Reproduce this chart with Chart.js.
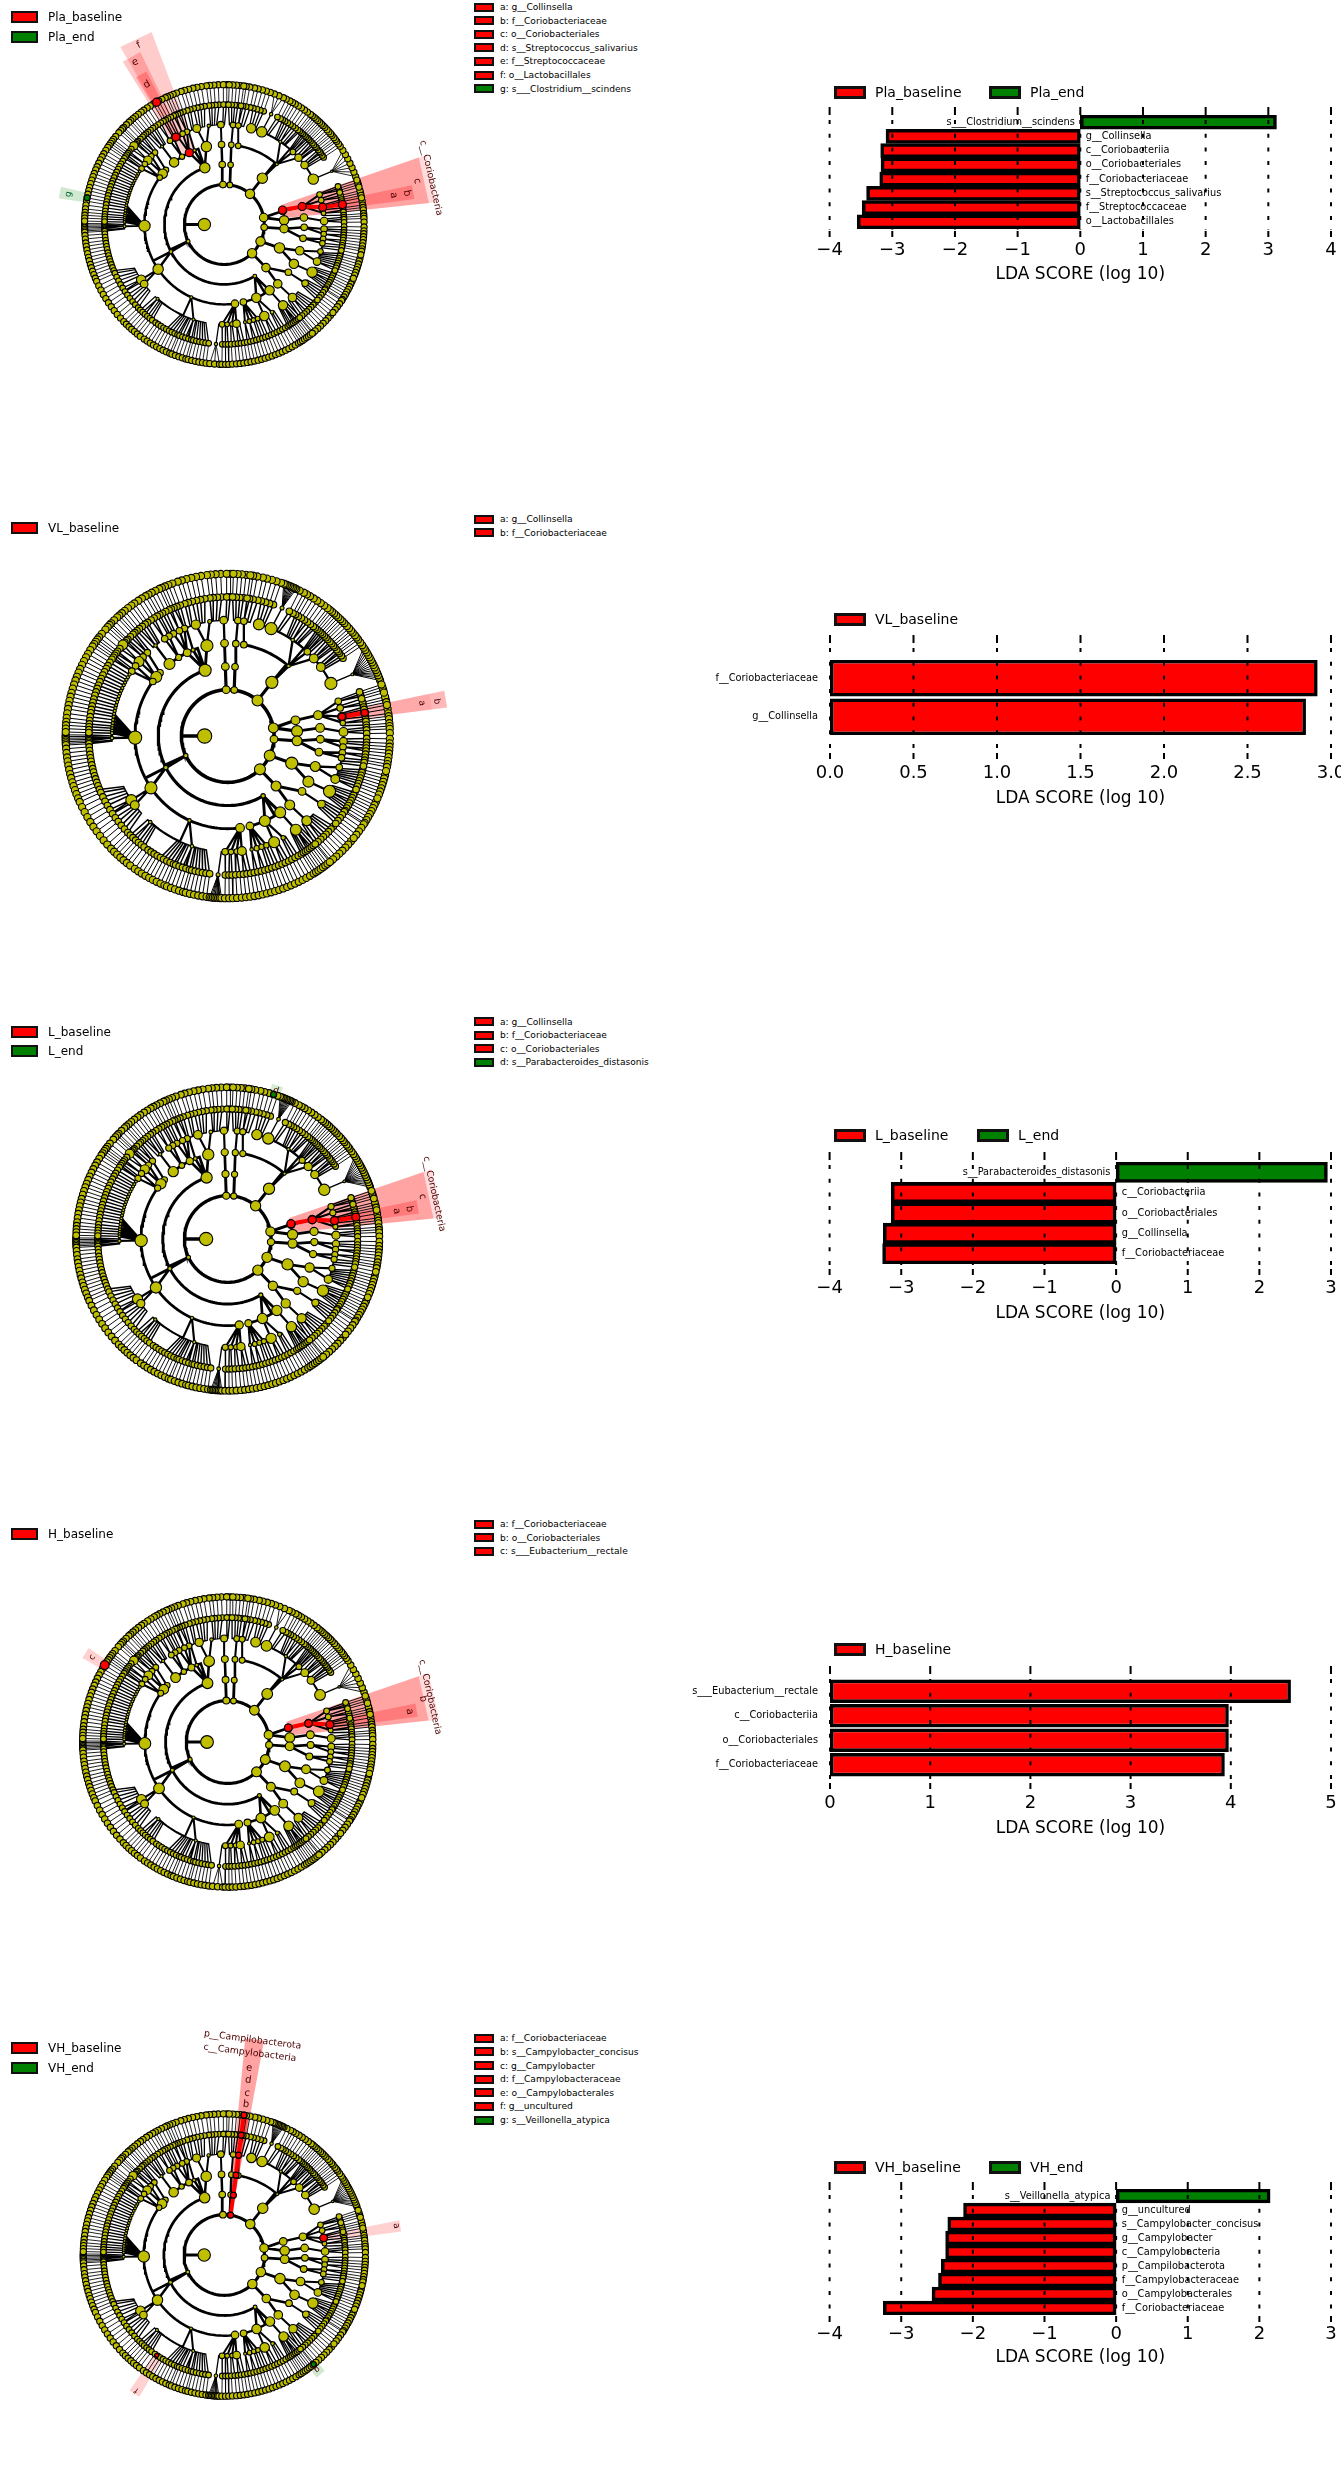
<!DOCTYPE html>
<html>
<head>
  <title>LEfSe cladograms and LDA scores</title>
  <script src="https://cdn.jsdelivr.net/npm/chart.js"></script>
  <style>
    html, body { margin: 0; background: #fff; }
    body { position: relative; width: 1341px; height: 2480px; overflow: hidden; font-family: "DejaVu Sans", sans-serif; color: #000; filter: blur(0.4px); }
    canvas { position: absolute; }
    .item { position: absolute; white-space: nowrap; display: flex; align-items: center; }
    .box { box-sizing: border-box; flex: none; }
  </style>
</head>
<body>
<script>
// LDA scores, top bar first (negative = baseline class)
const plaNames = ["s___Clostridium__scindens", "g__Collinsella", "c__Coriobacteriia", "o__Coriobacteriales", "f__Coriobacteriaceae", "s__Streptococcus_salivarius", "f__Streptococcaceae", "o__Lactobacillales"];
const plaScores = [3.13, -3.10, -3.185, -3.18, -3.20, -3.41, -3.48, -3.56];
const vlNames = ["f__Coriobacteriaceae", "g__Collinsella"];
const vlScores = [2.92, 2.85];
const lNames = ["s__Parabacteroides_distasonis", "c__Coriobacteriia", "o__Coriobacteriales", "g__Collinsella", "f__Coriobacteriaceae"];
const lScores = [2.95, -3.14, -3.14, -3.25, -3.26];
const hNames = ["s___Eubacterium__rectale", "c__Coriobacteriia", "o__Coriobacteriales", "f__Coriobacteriaceae"];
const hScores = [4.6, 3.98, 3.98, 3.94];
const vhNames = ["s__Veillonella_atypica", "g__uncultured", "s__Campylobacter_concisus", "g__Campylobacter", "c__Campylobacteria", "p__Campilobacterota", "f__Campylobacteraceae", "o__Campylobacterales", "f__Coriobacteriaceae"];
const vhScores = [2.15, -2.13, -2.35, -2.38, -2.38, -2.44, -2.48, -2.57, -3.25];

// letter keys beside each cladogram
const plaKey = ["a: g__Collinsella", "b: f__Coriobacteriaceae", "c: o__Coriobacteriales", "d: s__Streptococcus_salivarius", "e: f__Streptococcaceae", "f: o__Lactobacillales", "g: s___Clostridium__scindens"];
const vlKey = ["a: g__Collinsella", "b: f__Coriobacteriaceae"];
const lKey = ["a: g__Collinsella", "b: f__Coriobacteriaceae", "c: o__Coriobacteriales", "d: s__Parabacteroides_distasonis"];
const hKey = ["a: f__Coriobacteriaceae", "b: o__Coriobacteriales", "c: s___Eubacterium__rectale"];
const vhKey = ["a: f__Coriobacteriaceae", "b: s__Campylobacter_concisus", "c: g__Campylobacter", "d: f__Campylobacteraceae", "e: o__Campylobacterales", "f: g__uncultured", "g: s__Veillonella_atypica"];

// taxonomy tree, angles in degrees. [angle, size, children]; a bare number runs straight out to the leaf ring
const fansDense = {
  fanA: [20, 21, 22, 23, 24, 25, 26, 27, 28, 29, 30, 31, 32, 33],
  fanB: [65, 65.6, 66.2, 66.8, 67.4, 68, 68.6, 69.2, 69.8],
  fanC: [263.6, 264.2, 264.8, 265.4, 266, 266.6, 267.2, 267.8]
};
const fansSparse = {
  fanA: [20, 22, 24, 26, 28, 30, 32],
  fanB: [65, 67, 69],
  fanC: [264, 266, 268]
};
const stripesLeft = [148, 149.6, 151, 152.5, 154, 155.6, 157, 158.6, 160, 161.5, 163, 164.6, 166, 167.5, 169, 170.4, 172, 173.6, 175, 176.2, 177.4, 178.6];
const upperLeftClade = [109, 5.5, [
  [103, 5.5, [[99, 1.8, [92.5, 94.3, 96, 97.4]], [106, 4.2, [99.5, 101.3, 103, 104.8]]]],
  [112, 1.8, [[111, 1.5, [106.5, 108, 110]]]],
  [116, 3.5, [[112, 3, [111.5, 112.8]], [114.7, 3, [114, 115]], [118, 3, [116.5, 118]]]],
  [122, 2.8, [[120.5, 3, [119.3, 120.5]], [123, 3, [122, 123.5]]]],
  [129, 5, [[128.6, 1.6, [125.2, 126.5, 128, 129.5, 130.8]]]]
]];
const lowerLeftClade = [207, 2, [
  [137, 3, [[134, 3, [132, 133, 134.5, 136]]]],
  [140.5, 5, [[137, 3, [136.8, 137.8]], [140, 4.5, [[139, 4.8, [139]], 141]]]],
  [144, 3, [[142.8, 3, [142.5, 143.5]], [146, 3, [144.5, 145.5, 146.5]]]],
  [181, 6, [[181, 1.6, [179.6, 180.2, 180.8, 181.4, 182, 182.6, 183.2]], ...stripesLeft]],
  [214, 5.5, [
    [213.6, 5, [184.5, 186, 187.6, 189, 190.5, 192, 193.6, 195, 196.6, 198, 199.5, 201, 202.6, 204, 206, 208, 210]],
    [216.6, 4, [212, 214, 216, 218, 220, 222, 224]]
  ]],
  [245.6, 1.6, [
    [228, 1.6, [225.5, 227, 228.5, 230, 231.5, 233]],
    [252, 1.6, [235, 236.5, 238, 239.5, 241, 242.5, 244, 245.5, 247, 248, 249.5, 251, 252.5, 254, 255, 256.5, 258, 259.5, 261, 262.5]]
  ]],
  [277.6, 4, [
    [268.7, 3, [[266, 2, "fanC"], 269]], [271.6, 2.5, [270.5, 271.8]],
    [274.4, 2.5, [273.3, 275]], [277, 4, [276.5, 278, 279.5]]
  ]]
]];
const lowerClade = [300.6, 2, [
  [283.8, 3.5, [[281.9, 1.6, [281, 282.5]], [284.5, 2.5, [284, 285.5]], [287, 2.5, [287, 288.5]], [289.5, 2.5, [290, 291.5]]]],
  [293.6, 5, [[293.6, 5, [293, 294.5, 296]], [298.6, 2, [297.5, 299, 300.5]]]],
  [304.5, 5, [[306, 5, [302, 303, 304, 305, 306, 307, 308, 309.5]]]]
]];
const lowerRightClade = [-46, 4.5, [
  [-48, 4.5, [[-47, 4.5, [-40.5, -42, -43.5, -45, -46.5, -48, -49.5, -51]]]],
  [-36.7, 3.5, [[-36, 3.5, [-33, -34.5, -36, -37.5, -39]]]]
]];
const stripeRightClade = [-23, 5.5, [
  [-29.5, 5, [[-28.5, 5.5, [-24, -25.2, -26.4, -27.6, -28.8, -30, -31.2, -32.4]]]],
  [-19.2, 4.5, [[-21.8, 4, [-14, -15.2, -16.4, -17.6, -18.8, -20, -21.2, -22.6]], [-15.7, 3, [-11, -12.5]]]]
]];
const rightClade = [-4, 4.5, [
  [-2, 3.5, [[-2.6, 3.5, [-1, -2.6, -3.8]], [-5.5, 3, [-5, -6.2]]]],
  [-10, 3.5, [[-8.3, 3, [-7.5, -8.8]], [-10.8, 3, [-10]]]]
]];
const topRightClade = [50.6, 5.5, [
  [49, 1.6, [
    [27, 5.5, [[26.3, 1.4, "fanA"]]],
    [36.5, 4, [34, 35.2, 36.5, 37.4, 38.4]], [42, 4, [39.6, 40.5, 41.6, 42.7, 44]], [46.6, 3, [45, 46, 47, 48, 49, 50]],
    [55.9, 1.6, [51, 52, 53.5, 55, 56.5, 58, 59.5, 60.8]],
    [68, 5.5, [62, 63.7, [67, 2, "fanB"]]],
    [74.4, 5, [70.8, 72.5, 74.2, 76]]
  ]],
  [80, 3, [[82, 3, [77.5, 79.5, 81, 82]]]]
]];
const phyla = [
  [205, 2, [upperLeftClade, lowerLeftClade, lowerClade]],
  [92, 3.5, [[92, 3.5, [[92, 3.5, [[92, 3.5, [89, 90.4]]]]]]]],
  [82, 3, [[84, 3, [[85, 3, [[85, 3, [83.5, 85, 86.5, 88]]]]]]]],
  [50, 5, [topRightClade]],
  [10, 4.5, [
    [13, 4, [[13, 4, [[17.4, 3, [16.5, 17.5, 18.5]], [14, 3, [13, 14, 15.5]], [9.6, 4, [[9.6, 4, [9.6]], 12, 11, 8]], [6.5, 2.5, [7, 6, 4.5]]]]]],
    [4, 5, [[5, 4, [[2, 4, [3.5, 2.5, 1]]]]]]
  ]],
  [-4, 3.5, [rightClade]],
  [-25, 5, [stripeRightClade]],
  [-46, 5, [lowerRightClade]]
];
const kingdom = [180, 6.5, phyla];

const red = "#ff0000", green = "#008000";
const lineWidths = [0, 0, 3.6, 3.2, 2.9, 2.3, 1.5, 1.0];
const cladoPanels = [
  { cx: 224, cy: 224, unit: 20.6, fans: fansSparse,
    key: plaKey, keyY: 7, classes: [["Pla_baseline", red], ["Pla_end", green]], classY: [17, 36.5],
    wedges: [[6, 19, 3, 10.7, "rgba(255,0,0,.14)"], [6, 19, 3, 10.3, "rgba(255,0,0,.26)"], [7.6, 11.8, 5, 9.6, "rgba(255,0,0,.25)"], [110.7, 120.4, 4, 10.3, "rgba(255,0,0,.2)"], [116, 122, 5, 9.6, "rgba(255,0,0,.22)"], [117, 121, 7, 8.6, "rgba(255,0,0,.25)"], [167, 171, 7, 8.4, "rgba(0,128,0,.18)"]],
    path: [[3, 14], [4, 13], [5, 10], [6, 9.6]], redNodes: [[3, 14, 4], [4, 13, 4], [5, 10, 4], [6, 9.6, 4], [4, 116, 4], [5, 119, 4], [7, 119, 4]], greenNodes: [[7, 169, 3]],
    labels: [["c__Coriobacteria", 12.7, 10.6, 9.3], ["c", 12.7, 9.9, 10], ["b", 9.7, 9.27, 10], ["a", 9.8, 8.6, 10], ["f", 115.5, 9.95, 10], ["e", 118.8, 9.27, 10], ["d", 119, 8, 10], ["g", 169, 7.95, 9, "#063"]] },
  { cx: 227.5, cy: 736, unit: 24, fans: fansDense,
    key: vlKey, keyY: 519, classes: [["VL_baseline", red]], classY: [528],
    wedges: [[7.4, 11.8, 4.9, 9.55, "rgba(255,0,0,.28)"], [7.4, 11.8, 6, 8.9, "rgba(255,0,0,.08)"]],
    path: [[5, 9.6], [6, 9.6]], redNodes: [[5, 9.6, 3.6], [6, 9.6, 3.6]], greenNodes: [],
    labels: [["a", 9.6, 8.5, 9], ["b", 9.4, 9.15, 9]] },
  { cx: 227.5, cy: 1239, unit: 22.4, fans: fansDense,
    key: lKey, keyY: 1021.5, classes: [["L_baseline", red], ["L_end", green]], classY: [1031.7, 1051],
    wedges: [[5.7, 18.9, 3, 9.95, "rgba(255,0,0,.14)"], [5.7, 18.9, 3, 9.55, "rgba(255,0,0,.26)"], [7.6, 11.6, 5, 8.9, "rgba(255,0,0,.25)"], [70, 74, 6.8, 7.45, "rgba(0,128,0,.16)"]],
    path: [[3, 13.6], [4, 12.8], [5, 9.8], [6, 9.7]], redNodes: [[3, 13.6, 4], [4, 12.8, 4], [5, 9.8, 4], [6, 9.7, 4]], greenNodes: [[7, 72.4, 3]],
    labels: [["c__Coriobacteria", 12.3, 9.75, 9.3], ["c", 12.3, 9.2, 10], ["b", 9.4, 8.5, 10], ["a", 9.4, 7.9, 10], ["d", 72, 7.2, 9]] },
  { cx: 227.5, cy: 1741.7, unit: 21.4, fans: fansSparse,
    key: hKey, keyY: 1524, classes: [["H_baseline", red]], classY: [1533.6],
    wedges: [[6.1, 19, 3, 10.25, "rgba(255,0,0,.14)"], [6.1, 19, 3, 9.75, "rgba(255,0,0,.26)"], [7.6, 11.6, 5, 9.25, "rgba(255,0,0,.25)"], [146, 150, 6.8, 8.1, "rgba(255,0,0,.18)"]],
    path: [[3, 13.2], [4, 13], [5, 9.7]], redNodes: [[3, 13.2, 3.8], [4, 13, 3.8], [5, 9.7, 3.8], [7, 148, 4.4]], greenNodes: [],
    labels: [["c__Coriobacteria", 12.5, 10, 9.3], ["b", 12.5, 9.65, 10], ["a", 9.5, 8.9, 10], ["c", 148, 7.7, 9]] },
  { cx: 224, cy: 2255, unit: 20.8, fans: fansDense,
    key: vhKey, keyY: 2038.3, classes: [["VH_baseline", red], ["VH_end", green]], classY: [2048, 2067.7],
    wedges: [[79.5, 84.5, 2, 10.8, "rgba(255,0,0,.36)"], [80, 83.6, 2, 7, "rgba(255,0,0,.5)"], [7.6, 11.2, 5, 8.85, "rgba(255,0,0,.18)"], [235, 239, 6, 8.2, "rgba(255,0,0,.18)"], [-53, -49, 7, 7.6, "rgba(0,128,0,.18)"]],
    path: [[2, 81], [3, 81.4], [4, 81.7], [5, 81.9], [6, 82], [7, 82]], redNodes: [[2, 81, 3], [3, 81.4, 3], [4, 81.7, 3], [5, 81.9, 3], [6, 82, 3], [7, 82, 3], [5, 9.8, 3.8], [6, 236, 2]], greenNodes: [[7, -50.7, 2.5]],
    labels: [["p__Campilobacterota", 82.5, 10.75, 9.3], ["c__Campylobacteria", 82.8, 10.1, 9.3], ["e", 82.4, 9.35, 10], ["d", 82.2, 8.75, 10], ["c", 82, 8.1, 10], ["b", 81.8, 7.55, 10], ["a", 9.6, 8.65, 9], ["f", 237, 8, 8], ["g", -51, 7.3, 8]] }
];

const barPanels = [
  { names: plaNames, scores: plaScores, min: -4, max: 4, step: 1, dec: 0, left: 829.6, top: 115, bottom: 229, tickTop: 107, tickBottom: 237, tickY: 250, titleY: 273, gap: 5.4, pct: 1,
    legendY: 92, legend: [["Pla_baseline", red, 834], ["Pla_end", green, 989]] },
  { names: vlNames, scores: vlScores, min: 0, max: 3, step: 0.5, dec: 1, left: 830, top: 659, bottom: 736, tickTop: 635, tickBottom: 759, tickY: 773, titleY: 797, gap: 12, pct: 0.95,
    legendY: 619, legend: [["VL_baseline", red, 834]] },
  { names: lNames, scores: lScores, min: -4, max: 3, step: 1, dec: 0, left: 829.6, top: 1162, bottom: 1264, tickTop: 1152, tickBottom: 1275, tickY: 1288, titleY: 1312, gap: 5.7, pct: 1,
    legendY: 1135, legend: [["L_baseline", red, 834], ["L_end", green, 977]] },
  { names: hNames, scores: hScores, min: 0, max: 5, step: 1, dec: 0, left: 830, top: 1679, bottom: 1777, tickTop: 1666, tickBottom: 1789, tickY: 1803, titleY: 1827, gap: 12, pct: 0.95,
    legendY: 1649, legend: [["H_baseline", red, 834]] },
  { names: vhNames, scores: vhScores, min: -4, max: 3, step: 1, dec: 0, left: 829.6, top: 2189, bottom: 2315, tickTop: 2182, tickBottom: 2322, tickY: 2334, titleY: 2356, gap: 5.7, pct: 1,
    legendY: 2167, legend: [["VH_baseline", red, 834], ["VH_end", green, 989]] }
];

// html keys and legends
function addItem(text, x, y, color, boxW, boxH, border, gap, font) {
  const el = document.createElement("div");
  el.className = "item";
  el.style.cssText = `left:${x}px;top:${y - 10}px;height:20px;font-size:${font}px`;
  const box = document.createElement("span");
  box.className = "box";
  box.style.cssText = `width:${boxW}px;height:${boxH}px;background:${color};border:${border}px solid #111;margin-right:${gap}px`;
  el.append(box, text);
  document.body.append(el);
}

// tree to segments and nodes
function polar(angle, level) {
  const t = angle * Math.PI / 180;
  return { x: level * Math.cos(t), y: level * Math.sin(t) };
}
function buildTree(fans) {
  const lines = Array.from({ length: 8 }, () => []);
  const nodes = Array.from({ length: 8 }, () => []);
  function arc(seg, from, to, level) {
    const steps = Math.max(1, Math.ceil(Math.abs(from - to) / 2));
    for (let i = 0; i <= steps; i++) seg.push(polar(from + (to - from) * i / steps, level));
  }
  function connect(pa, ca, level) {
    const seg = lines[level], span = Math.abs(pa - ca);
    seg.push(polar(pa, level - 1));
    if (span > 12) {
      arc(seg, pa, ca, level);
    } else if (level === 6 && span > 1) {
      // genus rows run nearly parallel, they leave from a short arc on the family ring
      arc(seg, pa, pa + (ca - pa) * 0.7, 5);
      seg.push(polar(ca, level));
    } else {
      seg.push(polar(ca, level));
    }
    seg.push({ x: NaN, y: NaN });
  }
  function walk(item, level, parentAngle) {
    const bare = typeof item === "number";
    const angle = bare ? item : item[0];
    const size = bare ? (level === 5 ? 1.6 : level === 6 ? 3.3 : 3.6) : item[1] * (level <= 5 ? 1.1 : 1);
    let kids = bare ? (level < 7 ? [angle] : []) : (item[2] || []);
    if (typeof kids === "string") kids = fans[kids];
    nodes[level].push({ ...polar(angle, level), size });
    if (parentAngle !== null && level > 2) connect(parentAngle, angle, level);
    kids.forEach(k => walk(k, level + 1, angle));
  }
  walk(kingdom, 1, null);
  // the phylum ring is a whole circle
  for (let a = 0; a <= 360; a += 3) lines[2].push(polar(a, 2));
  lines[2].push({ x: NaN, y: NaN });
  lines[2].push(polar(180, 1), polar(180, 2));
  return { lines, nodes };
}

const cladoOverlay = {
  id: "cladoOverlay",
  beforeDatasetsDraw(chart, args, opts) {
    const { x, y } = chart.scales, ctx = chart.ctx;
    const px = (a, r) => { const p = polar(a, r); return [x.getPixelForValue(p.x), y.getPixelForValue(p.y)]; };
    opts.wedges.forEach(([a1, a2, r1, r2, color]) => {
      ctx.beginPath();
      ctx.moveTo(...px(a1, r1));
      ctx.lineTo(...px(a1, r2));
      ctx.lineTo(...px(a2, r2));
      ctx.lineTo(...px(a2, r1));
      ctx.closePath();
      ctx.fillStyle = color;
      ctx.fill();
    });
  },
  afterDatasetsDraw(chart, args, opts) {
    const { x, y } = chart.scales, ctx = chart.ctx;
    opts.labels.forEach(([text, a, r, size, color]) => {
      const p = polar(a, r);
      ctx.save();
      ctx.translate(x.getPixelForValue(p.x), y.getPixelForValue(p.y));
      ctx.rotate((90 - a) * Math.PI / 180);
      ctx.font = size + 'px "DejaVu Sans"';
      ctx.fillStyle = color || "#4a0000";
      ctx.textAlign = "center";
      ctx.textBaseline = "middle";
      ctx.fillText(text, 0, 0);
      ctx.restore();
    });
  }
};

function drawClado(p) {
  const w = 470, h = 480, top = Math.max(0, p.cy - 240);
  const canvas = document.createElement("canvas");
  canvas.width = w; canvas.height = h;
  canvas.style.cssText = `left:0;top:${top}px`;
  document.body.append(canvas);
  const tree = buildTree(p.fans), k = p.unit / 24;
  const datasets = [];
  const mark = (list, color) => ({
    data: list.map(([lv, a]) => polar(a, lv)), pointRadius: list.map(m => m[2]),
    pointBackgroundColor: color, pointBorderColor: "#000", pointBorderWidth: 1.2, showLine: false, order: -1
  });
  datasets.push(mark(p.redNodes, red), mark(p.greenNodes, green));
  datasets.push({ data: p.path.map(([lv, a]) => polar(a, lv)), showLine: true, borderColor: red, borderWidth: 4 * k + 0.5, pointRadius: 0, order: 1 });
  tree.nodes.forEach(list => {
    if (!list.length) return;
    datasets.push({
      data: list, pointRadius: list.map(n => n.size * k), pointBackgroundColor: "#bfbf00",
      pointBorderColor: "#000", pointBorderWidth: 1.1, showLine: false, order: 0
    });
  });
  tree.lines.forEach((seg, lv) => {
    if (!seg.length) return;
    datasets.push({ data: seg, showLine: true, borderColor: "#000", borderWidth: lineWidths[lv] * k, pointRadius: 0, spanGaps: false, order: 2 });
  });
  new Chart(canvas, {
    type: "scatter",
    data: { datasets },
    plugins: [cladoOverlay],
    options: {
      responsive: false, animation: false, events: [],
      layout: { padding: 0 },
      scales: {
        x: { type: "linear", display: false, min: -p.cx / p.unit, max: (w - p.cx) / p.unit },
        y: { type: "linear", display: false, max: (p.cy - top) / p.unit, min: -(top + h - p.cy) / p.unit }
      },
      plugins: { legend: { display: false }, tooltip: { enabled: false }, cladoOverlay: { wedges: p.wedges, labels: p.labels } }
    }
  });
  p.key.forEach((text, i) => {
    const c = i === p.key.length - 1 && p.classes.length > 1 ? green : red;
    addItem(text, 474, p.keyY + i * 13.62, c, 20, 9, 2, 6, 9.1);
  });
  p.classes.forEach(([text, c], i) => addItem(text, 11, p.classY[i], c, 27, 12, 2, 10, 12));
}

const barOverlay = {
  id: "barOverlay",
  afterDatasetsDraw(chart, args, opts) {
    const { x } = chart.scales, ctx = chart.ctx, y0 = chart.chartArea.top;
    // dashed grid and tick marks over the bars
    ctx.save();
    ctx.strokeStyle = "#000";
    ctx.lineWidth = 2;
    x.ticks.forEach(t => {
      const px = x.getPixelForValue(t.value);
      ctx.setLineDash([4, 9.7]);
      ctx.beginPath();
      ctx.moveTo(px, y0 - (opts.top - opts.tickTop) + 13);
      ctx.lineTo(px, y0 + (opts.tickBottom - opts.top) - 7);
      ctx.stroke();
      ctx.setLineDash([]);
      ctx.beginPath();
      ctx.moveTo(px, y0 - (opts.top - opts.tickTop));
      ctx.lineTo(px, y0 - (opts.top - opts.tickTop) + 8);
      ctx.moveTo(px, y0 + (opts.tickBottom - opts.top) - 6);
      ctx.lineTo(px, y0 + (opts.tickBottom - opts.top));
      ctx.stroke();
    });
    ctx.restore();
    // taxon names sit on the far side of zero
    const zero = x.getPixelForValue(0), bars = chart.getDatasetMeta(0).data;
    ctx.font = '9.8px "DejaVu Sans"';
    ctx.fillStyle = "#000";
    ctx.textBaseline = "middle";
    opts.names.forEach((name, i) => {
      const neg = opts.scores[i] < 0;
      ctx.textAlign = neg ? "left" : "right";
      ctx.fillText(name, zero + (neg ? opts.gap : -opts.gap), bars[i].y);
    });
  }
};

function drawBars(p) {
  const canvasLeft = 680, canvasTop = p.tickTop - 10, axisH = p.titleY - p.bottom + 12;
  const canvas = document.createElement("canvas");
  canvas.width = 700;
  canvas.height = p.bottom - canvasTop + axisH;
  canvas.style.cssText = `left:${canvasLeft}px;top:${canvasTop}px`;
  document.body.append(canvas);
  const twoClass = p.legend.length > 1;
  new Chart(canvas, {
    type: "bar",
    data: {
      labels: p.names,
      datasets: [{
        data: p.scores,
        backgroundColor: p.scores.map(v => twoClass && v > 0 ? green : red),
        borderColor: "#000", borderWidth: 3.6, borderSkipped: false,
        barPercentage: p.pct, categoryPercentage: 1
      }]
    },
    plugins: [barOverlay],
    options: {
      indexAxis: "y", responsive: false, animation: false, events: [],
      layout: { padding: { left: p.left - canvasLeft, right: 700 - (1331 - canvasLeft), top: p.top - canvasTop, bottom: 0 } },
      scales: {
        y: { display: false },
        x: {
          min: p.min, max: p.max,
          afterFit(s) { s.height = axisH; },
          grid: { display: false, drawTicks: false },
          border: { display: false },
          ticks: {
            stepSize: p.step, maxRotation: 0, autoSkip: false, color: "#000", padding: p.tickY - p.bottom - 10,
            font: { family: "DejaVu Sans", size: 18 },
            callback: v => v.toFixed(p.dec).replace("-", "\u2212")
          },
          title: { display: true, text: "LDA SCORE (log 10)", color: "#000", padding: 0, font: { family: "DejaVu Sans", size: 17 } }
        }
      },
      plugins: {
        legend: { display: false }, tooltip: { enabled: false },
        barOverlay: { names: p.names, scores: p.scores, gap: p.gap, top: p.top, tickTop: p.tickTop, tickBottom: p.tickBottom }
      }
    }
  });
  p.legend.forEach(([text, c, x]) => addItem(text, x, p.legendY, c, 32, 13, 3, 9, 14));
}

cladoPanels.forEach(drawClado);
barPanels.forEach(drawBars);
</script>
</body>
</html>
